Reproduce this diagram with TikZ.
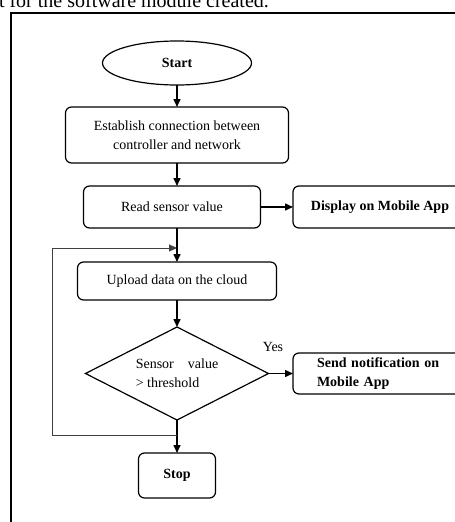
\documentclass[tikz,border=0pt]{standalone}
\usepackage{fontspec}
\setmainfont{Liberation Serif}
\usetikzlibrary{shapes.geometric,arrows.meta}

\begin{document}
\begin{tikzpicture}[x=1pt,y=-1pt,
    every node/.style={font=\fontsize{14}{19}\selectfont, inner sep=0pt, outer sep=0pt},
    box/.style={draw, line width=1.2pt, rounded corners=6pt, align=center},
    flow/.style={line width=1.5pt, -{Triangle[length=8pt,width=7pt]}},
    loopline/.style={line width=1pt, draw=black!75, -{Triangle[length=8pt,width=7pt]}}]
      \useasboundingbox (0,0) rectangle (455,522);
      \clip (0,0) rectangle (455,522);
      \node[anchor=base west, font=\fontsize{20}{22}\selectfont] (caption) at (-1,7) {t for the software module created.};
      \draw[line width=2pt] (11,530) -- (11,13) -- (470,13);
      \node[draw, ellipse, line width=1.2pt, minimum width=149pt, minimum height=44pt, font=\fontsize{14}{19}\selectfont\bfseries] (start) at (177,63) {Start};
      \node[box, minimum width=223pt, minimum height=56pt] (est) at (177,135) {Establish connection between\\controller and network};
      \node[box, minimum width=177pt, minimum height=42pt] (read) at (172,207) {Read sensor value};
      \node[box, minimum width=174pt, minimum height=42pt, font=\fontsize{14}{19}\selectfont\bfseries] (disp) at (380,207) {Display on Mobile App};
      \node[box, minimum width=199pt, minimum height=38pt] (upload) at (177,281) {Upload data on the cloud};
      \node[draw, diamond, line width=1.2pt, aspect=2, minimum width=183pt, minimum height=93pt, align=left] (dec) at (177,373.5) {Sensor\quad value\\> threshold};
      \node[box, anchor=west, align=left, text width=150pt, inner xsep=24pt, minimum height=41pt, font=\fontsize{14}{19}\selectfont\bfseries] (send) at (293,373.5) {Send notification on\\Mobile App};
      \node[box, minimum width=77pt, minimum height=45pt, font=\fontsize{14}{19}\selectfont\bfseries] (stop) at (177,475.5) {Stop};
      \node (yes) at (273,347) {Yes};
      \coordinate (entry) at (177,248);
      \coordinate (back) at (177,435);
      \draw[flow] (start) -- (est);
      \draw[flow] (est.south) -- (est.south |- read.north);
      \draw[flow] (read) -- (disp);
      \draw[flow] (read.south -| upload.north) -- (upload.north);
      \draw[flow] (upload) -- (dec);
      \draw[flow] (dec) -- (send);
      \draw[flow] (dec) -- (stop);
      \draw[loopline] (back) -- ++(-125,0) |- (entry);
\end{tikzpicture}
\end{document}
